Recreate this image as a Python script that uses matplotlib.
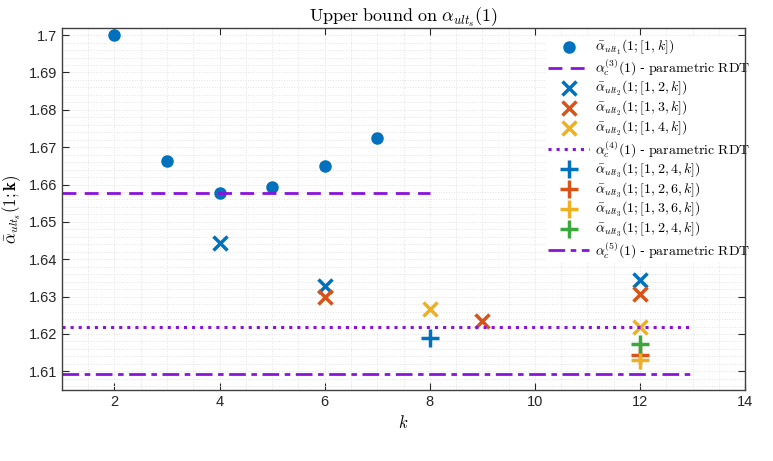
import matplotlib
matplotlib.use("Agg")
import matplotlib.pyplot as plt
from matplotlib.ticker import MultipleLocator

plt.rcParams["font.family"] = ["Liberation Sans", "DejaVu Sans"]
plt.rcParams["mathtext.fontset"] = "cm"

# data
k1 = [2, 3, 4, 5, 6, 7]
ult1 = [1.7000, 1.6662, 1.6577, 1.6593, 1.6649, 1.6724]

k2_12 = [4, 6, 12]
ult2_12 = [1.6443, 1.6328, 1.6344]
k2_13 = [6, 9, 12]
ult2_13 = [1.6298, 1.6234, 1.6306]
k2_14 = [8, 12]
ult2_14 = [1.6266, 1.6218]

k3_124 = [8]
ult3_124 = [1.6188]
k3_126 = [12]
ult3_126 = [1.6145]
k3_136 = [12]
ult3_136 = [1.6129]
k3_124b = [12]
ult3_124b = [1.6174]

rdt3_k = [1, 8]
rdt3 = 1.6577
rdt4_k = [1, 13]
rdt4 = 1.6218
rdt5_k = [1, 13]
rdt5 = 1.6092

blue = "#0072BD"
orange = "#D95319"
yellow = "#EDB120"
green = "#3AA83A"
purple = "#8A13D9"

fig = plt.figure(figsize=(7.73, 4.61), dpi=100)
ax = fig.add_axes([0.080, 0.154, 0.884, 0.786])

ax.plot(k1, ult1, "o", color=blue, markersize=8, label=r"$\bar{\alpha}_{ult_1}(1;[1,k])$")
ax.plot(rdt3_k, [rdt3] * 2, "--", color=purple, lw=2, dashes=(5, 3),
        label=r"$\alpha_c^{(3)}(1)$ - $\mathrm{parametric\ RDT}$")
ax.plot(k2_12, ult2_12, "x", color=blue, markersize=9.5, mew=2.5, label=r"$\bar{\alpha}_{ult_2}(1;[1,2,k])$")
ax.plot(k2_13, ult2_13, "x", color=orange, markersize=9.5, mew=2.5, label=r"$\bar{\alpha}_{ult_2}(1;[1,3,k])$")
ax.plot(k2_14, ult2_14, "x", color=yellow, markersize=9.5, mew=2.5, label=r"$\bar{\alpha}_{ult_2}(1;[1,4,k])$")
ax.plot(rdt4_k, [rdt4] * 2, ":", color=purple, lw=2.2,
        label=r"$\alpha_c^{(4)}(1)$ - $\mathrm{parametric\ RDT}$")
ax.plot(k3_124, ult3_124, "+", color=blue, markersize=13, mew=2.5, label=r"$\bar{\alpha}_{ult_3}(1;[1,2,4,k])$")
ax.plot(k3_126, ult3_126, "+", color=orange, markersize=13, mew=2.5, label=r"$\bar{\alpha}_{ult_3}(1;[1,2,6,k])$")
ax.plot(k3_136, ult3_136, "+", color=yellow, markersize=13, mew=2.5, label=r"$\bar{\alpha}_{ult_3}(1;[1,3,6,k])$")
ax.plot(k3_124b, ult3_124b, "+", color=green, markersize=13, mew=2.5, label=r"$\bar{\alpha}_{ult_3}(1;[1,2,4,k])$")
ax.plot(rdt5_k, [rdt5] * 2, "-.", color=purple, lw=2, dashes=(6, 2, 2, 2),
        label=r"$\alpha_c^{(5)}(1)$ - $\mathrm{parametric\ RDT}$")

ax.set_xlim(1, 14)
ax.set_ylim(1.605, 1.702)
ax.xaxis.set_major_locator(MultipleLocator(2))
ax.xaxis.set_minor_locator(MultipleLocator(0.5))
ax.yaxis.set_major_locator(MultipleLocator(0.01))
ax.yaxis.set_minor_locator(MultipleLocator(0.002))
ax.set_yticks([1.61, 1.62, 1.63, 1.64, 1.65, 1.66, 1.67, 1.68, 1.69, 1.70])
ax.set_yticklabels(["1.61", "1.62", "1.63", "1.64", "1.65", "1.66", "1.67", "1.68", "1.69", "1.7"])

ax.grid(True, which="both", linestyle=":", color="#e2e2e2", lw=0.7)
ax.set_axisbelow(True)
ax.tick_params(which="major", direction="in", top=True, right=True, length=5,
               labelsize=10.5, color="#262626", labelcolor="#262626")
ax.tick_params(which="minor", length=0)
for s in ax.spines.values():
    s.set_color("#404040")
    s.set_linewidth(1)

ax.set_xlabel(r"$k$", fontsize=12)
ax.set_ylabel(r"$\bar{\alpha}_{ult_s}(1;\mathbf{k})$", fontsize=12)
ax.set_title(r"$\mathrm{Upper\ bound\ on}\ \alpha_{ult_s}(1)$", fontsize=13, pad=4)

leg = ax.legend(loc="upper left", bbox_to_anchor=(0.707, 0.978), fontsize=10,
                frameon=True, facecolor="white", edgecolor="none", framealpha=1,
                handlelength=3.0, handletextpad=0.4, labelspacing=0.07,
                borderpad=0.2, borderaxespad=0)
leg.set_zorder(1)

fig.savefig("out.png", dpi=100)
